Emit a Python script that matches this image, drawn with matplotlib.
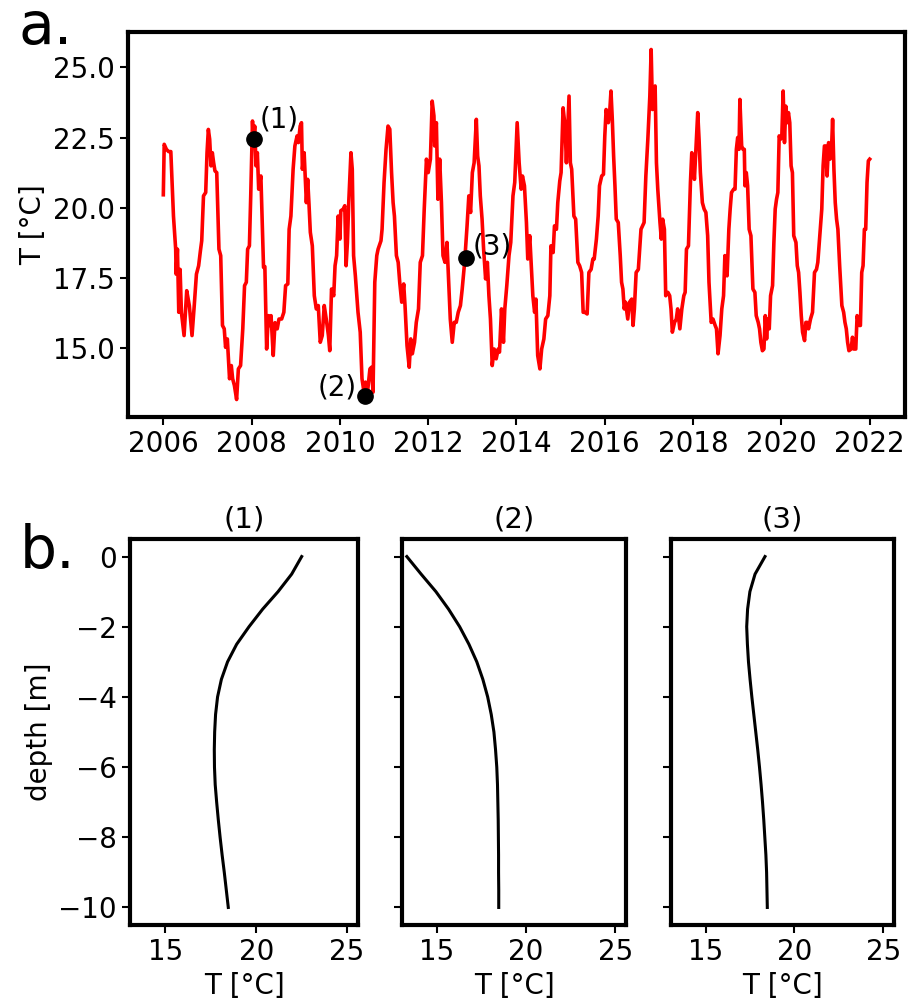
import matplotlib
matplotlib.use("Agg")
import matplotlib.pyplot as plt
import numpy as np

# ---------------- data ----------------
years = [
    2006.00, 2006.02, 2006.07, 2006.12, 2006.17, 2006.23, 2006.28, 2006.29, 2006.32, 2006.35,
    2006.38, 2006.41, 2006.47, 2006.53, 2006.59, 2006.65, 2006.70, 2006.75, 2006.80, 2006.84,
    2006.87, 2006.91, 2006.96, 2006.99, 2007.02, 2007.05, 2007.08, 2007.11, 2007.14, 2007.17,
    2007.21, 2007.26, 2007.30, 2007.34, 2007.38, 2007.41, 2007.45, 2007.50, 2007.54, 2007.57,
    2007.61, 2007.66, 2007.70, 2007.75, 2007.80, 2007.84, 2007.88, 2007.91, 2007.95, 2007.98,
    2008.02, 2008.04, 2008.07, 2008.10, 2008.13, 2008.16, 2008.21, 2008.27, 2008.30,
    2008.34, 2008.38, 2008.41, 2008.44, 2008.49, 2008.53, 2008.58, 2008.62, 2008.68, 2008.73,
    2008.77, 2008.82, 2008.85, 2008.89, 2008.94, 2008.98, 2009.03, 2009.06, 2009.10, 2009.13,
    2009.15, 2009.19, 2009.21, 2009.24, 2009.27, 2009.30, 2009.33, 2009.375, 2009.42, 2009.465,
    2009.51, 2009.555, 2009.60, 2009.645, 2009.69, 2009.74, 2009.77, 2009.81, 2009.86, 2009.89,
    2009.925, 2009.96, 2010.00, 2010.02, 2010.075, 2010.11, 2010.14, 2010.17, 2010.20, 2010.25,
    2010.28, 2010.31, 2010.35, 2010.41, 2010.46, 2010.50, 2010.535, 2010.58, 2010.625, 2010.68,
    2010.715, 2010.75, 2010.79, 2010.835, 2010.865, 2010.93, 2010.955, 2011.00, 2011.045, 2011.09,
    2011.13, 2011.17, 2011.205, 2011.235, 2011.28, 2011.32, 2011.355, 2011.40, 2011.445, 2011.475,
    2011.52, 2011.57, 2011.605, 2011.64, 2011.69, 2011.73, 2011.78, 2011.82, 2011.87, 2011.91,
    2011.96, 2012.00, 2012.05, 2012.09, 2012.13, 2012.147, 2012.185, 2012.22, 2012.26, 2012.30,
    2012.335, 2012.38, 2012.425, 2012.455, 2012.50, 2012.545, 2012.59, 2012.635, 2012.68, 2012.73,
    2012.77, 2012.825, 2012.88, 2012.92, 2012.96, 2013.00, 2013.04, 2013.09, 2013.12, 2013.15,
    2013.18, 2013.22, 2013.255, 2013.30, 2013.34, 2013.375, 2013.41, 2013.45, 2013.495, 2013.54,
    2013.585, 2013.615, 2013.66, 2013.705, 2013.735, 2013.78, 2013.83, 2013.87, 2013.92, 2013.96,
    2014.015, 2014.06, 2014.105, 2014.135, 2014.18, 2014.225, 2014.255, 2014.30, 2014.33, 2014.37,
    2014.41, 2014.44, 2014.48, 2014.53, 2014.57, 2014.62, 2014.66, 2014.71, 2014.755, 2014.78,
    2014.83, 2014.86, 2014.905, 2014.935, 2014.98, 2015.01, 2015.055, 2015.10, 2015.13, 2015.16,
    2015.19, 2015.22, 2015.25, 2015.30, 2015.34, 2015.39, 2015.43, 2015.475, 2015.51, 2015.55,
    2015.60, 2015.64, 2015.69, 2015.73, 2015.76, 2015.81, 2015.85, 2015.88, 2015.93, 2015.97,
    2016.00, 2016.03, 2016.08, 2016.11, 2016.14, 2016.17, 2016.20, 2016.23, 2016.26, 2016.305,
    2016.35, 2016.38, 2016.41, 2016.44, 2016.47, 2016.52, 2016.56, 2016.61, 2016.64, 2016.67,
    2016.71, 2016.76, 2016.82, 2016.855, 2016.89, 2016.93, 2016.975, 2017.02, 2017.05, 2017.08,
    2017.11, 2017.14, 2017.17, 2017.20, 2017.25, 2017.28, 2017.31, 2017.35, 2017.38, 2017.43,
    2017.47, 2017.50, 2017.53, 2017.58, 2017.62, 2017.65, 2017.70, 2017.745, 2017.79, 2017.82,
    2017.85, 2017.895, 2017.94, 2017.97, 2018.00, 2018.03, 2018.06, 2018.105, 2018.135, 2018.165,
    2018.21, 2018.25, 2018.29, 2018.33, 2018.36, 2018.41, 2018.45, 2018.50, 2018.53, 2018.565,
    2018.61, 2018.65, 2018.69, 2018.72, 2018.77, 2018.81, 2018.84, 2018.87, 2018.92, 2018.95,
    2018.98, 2019.01, 2019.04, 2019.06, 2019.10, 2019.13, 2019.16, 2019.175, 2019.205, 2019.235,
    2019.27, 2019.31, 2019.355, 2019.40, 2019.43, 2019.475, 2019.505, 2019.535, 2019.57, 2019.605,
    2019.635, 2019.665, 2019.695, 2019.725, 2019.755, 2019.80, 2019.83, 2019.86, 2019.89, 2019.92,
    2019.95, 2019.98, 2020.01, 2020.04, 2020.07, 2020.10, 2020.13, 2020.16, 2020.19, 2020.22,
    2020.25, 2020.28, 2020.33, 2020.36, 2020.39, 2020.42, 2020.45, 2020.48, 2020.525, 2020.555,
    2020.585, 2020.615, 2020.66, 2020.705, 2020.75, 2020.795, 2020.825, 2020.87, 2020.915, 2020.945,
    2020.975, 2021.005, 2021.035, 2021.07, 2021.10, 2021.13, 2021.16, 2021.19, 2021.22, 2021.25,
    2021.28, 2021.32, 2021.37, 2021.41, 2021.44, 2021.47, 2021.50, 2021.53, 2021.58, 2021.61,
    2021.64, 2021.685, 2021.715, 2021.76, 2021.79, 2021.82, 2021.85, 2021.88, 2021.91, 2021.94,
    2021.97, 2022.00,
]
temps = [
    20.46, 22.26, 22.08, 22.00, 22.00, 19.70, 18.52, 17.63, 18.52, 16.27,
    17.80, 16.27, 15.44, 17.04, 16.50, 15.44, 16.50, 17.63, 17.93, 18.46,
    18.82, 20.42, 20.54, 21.96, 22.79, 22.44, 21.49, 21.96, 21.60, 21.31,
    21.25, 18.52, 18.29, 15.80, 15.68, 15.02, 15.32, 13.90, 14.37, 13.90,
    13.66, 13.16, 14.25, 14.37, 15.68, 17.22, 17.34, 18.52, 18.64, 20.42,
    23.09, 22.38, 22.91, 21.49, 21.96, 20.66, 21.13, 17.87, 17.90,
    14.96, 16.15, 15.80, 16.15, 14.73, 15.90, 15.68, 16.03, 16.03, 16.27,
    17.22, 17.28, 19.23, 19.70, 21.37, 22.20, 22.56, 22.32, 22.91, 23.03,
    21.37, 21.96, 21.25, 20.18, 21.01, 20.12, 19.12, 18.64, 16.86, 16.39,
    16.51, 15.20, 15.44, 16.51, 16.03, 15.44, 14.90, 17.10, 16.86, 17.93,
    18.29, 19.70, 18.88, 19.89, 19.95, 20.07, 17.93, 18.76, 20.18, 21.96,
    21.37, 18.29, 17.57, 16.27, 15.56, 13.90, 13.54, 13.78, 13.42, 14.25,
    14.31, 13.42, 17.34, 18.29, 18.52, 18.82, 19.23, 20.90, 22.08, 22.91,
    22.80, 21.25, 20.18, 19.70, 18.29, 18.05, 17.34, 16.63, 17.28, 16.51,
    15.08, 14.31, 15.32, 14.79, 15.20, 15.91, 16.39, 18.05, 18.29, 19.95,
    21.73, 21.25, 21.73, 23.80, 23.27, 22.20, 23.03, 20.30, 21.73, 20.18,
    18.29, 18.05, 18.76, 17.69, 16.03, 15.20, 15.91, 15.91, 16.27, 16.51,
    17.10, 18.05, 19.35, 20.42, 19.83, 21.25, 21.60, 23.15, 21.84, 21.49,
    20.42, 19.59, 18.52, 17.46, 18.05, 16.86, 16.03, 14.37, 14.96, 14.61,
    14.96, 14.85, 16.39, 15.20, 16.39, 17.22, 18.29, 18.76, 20.42, 20.90,
    23.03, 21.60, 20.66, 21.13, 20.78, 19.47, 18.17, 19.00, 18.05, 16.86,
    16.27, 16.74, 14.73, 14.25, 14.96, 15.32, 16.03, 16.15, 16.86, 18.64,
    18.40, 19.35, 19.23, 20.18, 20.95, 21.25, 23.56, 22.91, 21.60, 22.79,
    23.98, 21.60, 21.37, 19.70, 19.59, 18.05, 17.93, 17.69, 16.27, 16.27,
    16.21, 17.69, 17.80, 18.17, 18.17, 18.88, 19.70, 20.78, 21.13, 21.19,
    22.56, 23.50, 23.03, 23.39, 24.16, 23.15, 21.84, 20.78, 19.59, 19.47,
    18.29, 17.34, 17.10, 16.39, 16.63, 16.03, 16.63, 16.74, 15.80, 16.39,
    17.69, 17.80, 19.23, 19.35, 19.47, 21.13, 22.44, 23.98, 25.64, 23.50,
    24.22, 24.34, 21.60, 20.66, 19.47, 18.88, 19.59, 19.23, 16.86, 16.98,
    16.86, 16.39, 15.56, 15.91, 16.03, 16.39, 15.68, 16.39, 16.86, 16.98,
    18.52, 18.64, 20.90, 21.96, 21.84, 21.01, 21.96, 23.39, 22.44, 21.25,
    20.18, 19.95, 19.83, 19.00, 17.34, 15.91, 16.03, 15.80, 15.68, 14.79,
    15.44, 16.39, 16.86, 18.29, 17.57, 19.23, 19.95, 20.54, 20.66, 20.66,
    22.08, 22.50, 22.08, 23.86, 22.20, 22.08, 22.08, 20.78, 21.25, 20.78,
    19.23, 19.00, 17.10, 16.98, 16.15, 15.91, 15.68, 15.20, 14.90, 14.96,
    16.15, 15.32, 16.03, 15.68, 16.86, 17.22, 18.76, 19.95, 20.30, 20.54,
    22.56, 22.44, 22.56, 24.16, 22.32, 23.62, 23.03, 23.39, 23.03, 21.49,
    21.25, 19.00, 18.76, 17.93, 17.69, 16.98, 16.15, 15.56, 15.26, 15.91,
    15.91, 15.68, 16.03, 16.27, 17.69, 17.80, 18.05, 19.00, 19.95, 21.49,
    22.20, 22.20, 21.13, 22.32, 21.73, 21.84, 23.15, 21.37, 20.18, 19.59,
    19.23, 17.93, 16.51, 16.27, 15.91, 15.68, 15.20, 14.90, 14.96, 15.38,
    14.96, 14.96, 16.15, 15.80, 15.80, 17.69, 17.93, 19.23, 19.23, 20.90,
    21.67, 21.73,
]

point_years = [2008.06, 2010.57, 2012.85]
point_temps = [22.45, 13.30, 18.20]
point_labels = ["(1)", "(2)", "(3)"]

depths = [0.0, -0.5, -1.0, -1.5, -2.0, -2.5, -3.0, -3.5, -4.0, -4.5, -5.0,
          -5.5, -6.0, -6.5, -7.0, -7.5, -8.0, -8.5, -9.0, -9.5, -10.0]
profile1 = [22.50, 21.95, 21.20, 20.35, 19.60, 18.92, 18.42, 18.08, 17.87, 17.76, 17.71,
            17.69, 17.70, 17.74, 17.82, 17.91, 18.01, 18.12, 18.24, 18.35, 18.46]
profile2 = [13.32, 14.12, 14.95, 15.66, 16.28, 16.80, 17.24, 17.58, 17.85, 18.05, 18.20,
            18.29, 18.36, 18.40, 18.42, 18.44, 18.45, 18.46, 18.46, 18.47, 18.47]
profile3 = [18.34, 17.78, 17.49, 17.36, 17.31, 17.35, 17.41, 17.50, 17.60, 17.71, 17.82,
            17.93, 18.03, 18.12, 18.20, 18.27, 18.33, 18.39, 18.43, 18.45, 18.47]
profiles = [profile1, profile2, profile3]

year_ticks = [2006, 2008, 2010, 2012, 2014, 2016, 2018, 2020, 2022]

# ---------------- style ----------------
FS = 20
plt.rcParams["font.family"] = ["DejaVu Sans"]
plt.rcParams["font.size"] = FS
SPINE_W = 3.0

W, H = 915, 1006
fig = plt.figure(figsize=(W / 100, H / 100), dpi=100)


def px_axes(l, t, r, b):
    return fig.add_axes([l / W, 1 - b / H, (r - l) / W, (b - t) / H])


def style(ax):
    for s in ax.spines.values():
        s.set_linewidth(SPINE_W)
    ax.tick_params(labelsize=FS, length=6, width=1.5)


# top panel
ax = px_axes(128, 32, 905, 417)
ax.plot(years, temps, color="red", lw=2.6, solid_joinstyle="round")
ax.plot(point_years, point_temps, "o", color="black", ms=11, zorder=5)
offsets = [((4, 4), "left", "bottom"), ((-6, -4), "right", "bottom"), ((5, -2), "left", "bottom")]
for x, y, lab, (off, ha, va) in zip(point_years, point_temps, point_labels, offsets):
    ax.annotate(lab, (x, y), xytext=off, textcoords="offset points",
                ha=ha, va=va, fontsize=FS)
ax.set_xticks(year_ticks)
ax.set_xticklabels([str(y) for y in year_ticks])
ax.set_yticks([15.0, 17.5, 20.0, 22.5, 25.0])
ax.set_ylabel("T [°C]", fontsize=FS)
style(ax)

# bottom panels
boxes = [(130, 358), (402, 626), (671, 894)]
for i, ((l, r), prof) in enumerate(zip(boxes, profiles)):
    a = px_axes(l, 539, r, 925)
    a.plot(prof, depths, color="black", lw=2.2)
    a.set_xlim(13.05, 25.6)
    a.set_ylim(-10.5, 0.5)
    a.set_xticks([15, 20, 25])
    a.set_yticks([0, -2, -4, -6, -8, -10])
    a.set_title(point_labels[i], fontsize=21, pad=8)
    a.set_xlabel("T [°C]", fontsize=FS)
    if i == 0:
        a.set_ylabel("depth [m]", fontsize=FS)
    else:
        a.set_yticklabels([])
    style(a)

fig.text(18 / W, 1 - 44 / H, "a.", fontsize=42, ha="left", va="baseline")
fig.text(20 / W, 1 - 568 / H, "b.", fontsize=42, ha="left", va="baseline")

fig.savefig("out.png", dpi=100)
